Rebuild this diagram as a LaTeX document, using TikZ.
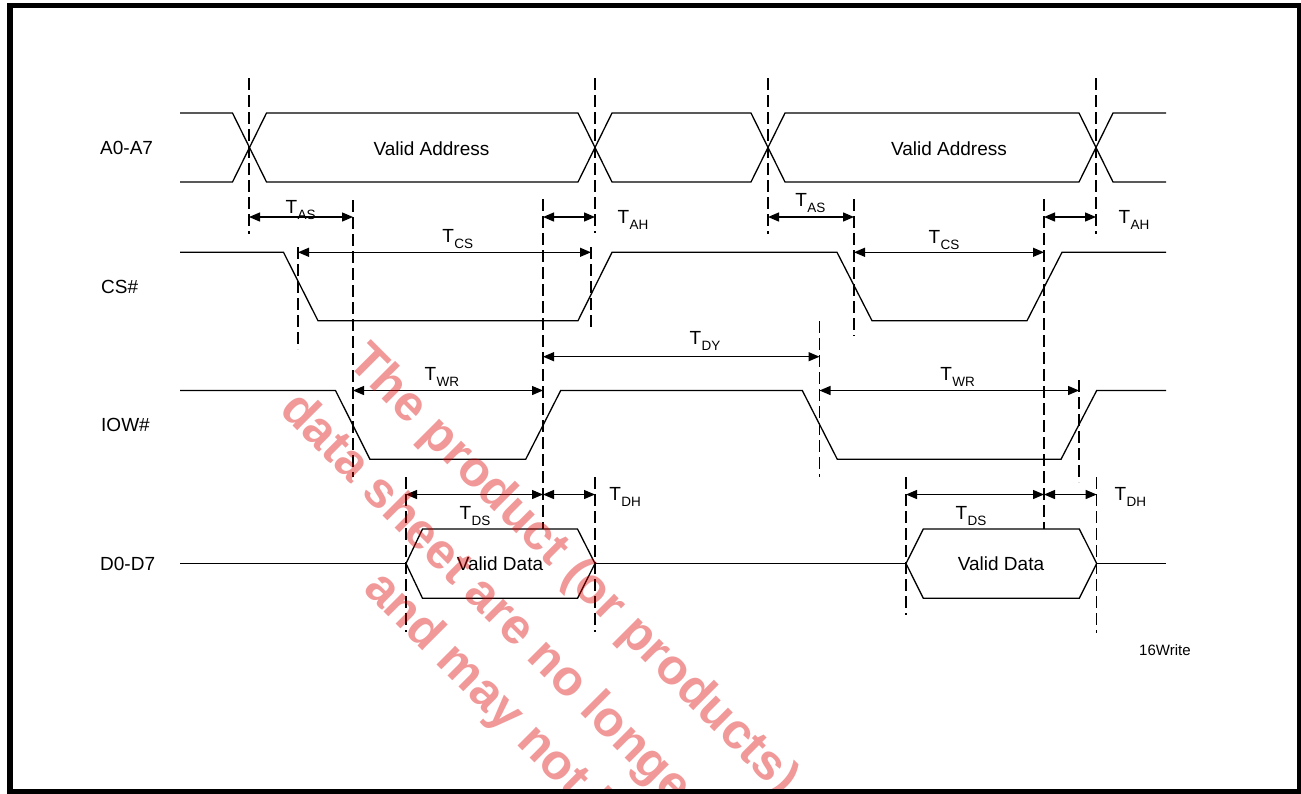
\documentclass[tikz,border=0pt]{standalone}
\usepackage{fontspec}
\setmainfont{Liberation Sans}
\usetikzlibrary{arrows.meta}
\definecolor{wmred}{RGB}{220,0,0}
\newcommand{\TS}[1]{T\kern0.3pt\raisebox{-6pt}{\fontsize{13.5}{15}\selectfont #1}}
\begin{document}
\begin{tikzpicture}[x=1pt,y=-1pt,
  sig/.style={line width=1.3pt,line join=miter},
  guide/.style={line width=1.2pt,dash pattern=on 12pt off 5pt},
  dim/.style={line width=1.3pt,arrows={Triangle[length=11pt,width=9pt]-Triangle[length=11pt,width=9pt]}},
  lbl/.style={font=\fontsize{19}{22}\selectfont,inner sep=0pt},
  tl/.style={font=\fontsize{19}{22}\selectfont,inner sep=0pt,anchor=base west},
  wm/.style={font=\fontsize{50}{56}\selectfont\bfseries,text=wmred,text opacity=0.4,inner sep=0pt,anchor=base west,rotate=-45}]
\useasboundingbox (0,0) rectangle (1301,793);
\fill[white] (0,0) rectangle (1301,793);

% signal names
\node[lbl,anchor=base west] (nA) at (100,154.3) {A0-A7};
\node[lbl,anchor=base west] (nCS) at (101,293.3) {CS\#};
\node[lbl,anchor=base west] (nIOW) at (101,431.3) {IOW\#};
\node[lbl,anchor=base west] (nD) at (100,570.3) {D0-D7};

% A0-A7
\draw[sig] (180,113) -- (232.5,113) -- (266.5,182) -- (578,182) -- (612,113) -- (751,113) -- (785,182) -- (1079,182) -- (1113,113) -- (1166,113);
\draw[sig] (180,182) -- (232.5,182) -- (266.5,113) -- (578,113) -- (612,182) -- (751,182) -- (785,113) -- (1079,113) -- (1113,182) -- (1166,182);
\node[lbl,anchor=base] (va1) at (431.5,155) {Valid Address};
\node[lbl,anchor=base] (va2) at (949,155) {Valid Address};

% CS#
\draw[sig] (180,252.3) -- (283.5,252.3) -- (318,320.7) -- (578,320.7) -- (612,252.3) -- (837,252.3) -- (872,320.7) -- (1027,320.7) -- (1062,252.3) -- (1166,252.3);

% IOW#
\draw[sig] (180,390.5) -- (335.5,390.5) -- (370,459.3) -- (525.7,459.3) -- (560.7,390.5) -- (802.3,390.5) -- (837.3,459.3) -- (1061,459.3) -- (1096.7,390.5) -- (1166,390.5);

% D0-D7
\draw[sig] (180,563.5) -- (406,563.5);
\draw[sig] (406,563.5) -- (422.5,529) -- (577.5,529) -- (595,563.5) -- (577.5,598.3) -- (422.5,598.3) -- cycle;
\draw[sig] (595,563.5) -- (906,563.5);
\draw[sig] (906,563.5) -- (923.3,529) -- (1079.3,529) -- (1096.7,563.5) -- (1079.3,598.3) -- (923.3,598.3) -- cycle;
\draw[sig] (1096.7,563.5) -- (1166,563.5);
\node[lbl,anchor=base] (vd1) at (500,570.3) {Valid Data};
\node[lbl,anchor=base] (vd2) at (1001,570.3) {Valid Data};

% guide lines
\coordinate (g1a) at (249,78);    \coordinate (g1b) at (249,234);
\coordinate (g2a) at (595,78);    \coordinate (g2b) at (595,233);
\coordinate (g3a) at (768,78);    \coordinate (g3b) at (768,234);
\coordinate (g4a) at (1096,78);   \coordinate (g4b) at (1096,234);
\coordinate (g5a) at (353,200);   \coordinate (g5b) at (353,477);
\coordinate (g6a) at (543,199);   \coordinate (g6b) at (543,529);
\coordinate (g7a) at (298,247);   \coordinate (g7b) at (298,349);
\coordinate (g8a) at (591,247);   \coordinate (g8b) at (591,331);
\coordinate (g9a) at (854,199);   \coordinate (g9b) at (854,336);
\coordinate (g10a) at (1044,199); \coordinate (g10b) at (1044,529);
\coordinate (g11a) at (819.5,321);\coordinate (g11b) at (819.5,477);
\coordinate (g12a) at (1079,380); \coordinate (g12b) at (1079,482);
\coordinate (g13a) at (406,477);  \coordinate (g13b) at (406,632);
\coordinate (g14a) at (595,477);  \coordinate (g14b) at (595,632);
\coordinate (g15a) at (906,477);  \coordinate (g15b) at (906,615);
\coordinate (g16a) at (1096.7,477); \coordinate (g16b) at (1096.7,633);
\foreach \i in {1,...,16} { \draw[guide] (g\i a) -- (g\i b); }

% dimension arrows
\draw[dim] (g1a |- 0,217) -- (g5a |- 0,217);
\draw[dim] (g6a |- 0,217) -- (g2a |- 0,217);
\draw[dim] (g3a |- 0,217) -- (g9a |- 0,217);
\draw[dim] (g10a |- 0,217) -- (g4a |- 0,217);
\draw[dim] (g7a |- 0,252.3) -- (g8a |- 0,252.3);
\draw[dim] (g9a |- 0,252.3) -- (g10a |- 0,252.3);
\draw[dim] (g6a |- 0,356.7) -- (g11a |- 0,356.7);
\draw[dim] (g5a |- 0,390.5) -- (g6a |- 0,390.5);
\draw[dim] (g11a |- 0,390.5) -- (g12a |- 0,390.5);
\draw[dim] (g13a |- 0,494.5) -- (g6a |- 0,494.5);
\draw[dim] (g6a |- 0,494.5) -- (g14a |- 0,494.5);
\draw[dim] (g15a |- 0,494.5) -- (g10a |- 0,494.5);
\draw[dim] (g10a |- 0,494.5) -- (g16a |- 0,494.5);

% timing labels
\node[tl] (tas1) at (285.5,213.7) {\TS{AS}};
\node[tl] (tas2) at (795.2,206.7) {\TS{AS}};
\node[tl] (tah1) at (617.5,223.3) {\TS{AH}};
\node[tl] (tah2) at (1118.5,223.3) {\TS{AH}};
\node[tl] (tcs1) at (442.2,242.7) {\TS{CS}};
\node[tl] (tcs2) at (928.5,243) {\TS{CS}};
\node[tl] (tdy) at (689.5,344.3) {\TS{DY}};
\node[tl] (twr1) at (424.5,380) {\TS{WR}};
\node[tl] (twr2) at (940.2,380) {\TS{WR}};
\node[tl] (tds1) at (459.5,519.3) {\TS{DS}};
\node[tl] (tds2) at (955.5,519.3) {\TS{DS}};
\node[tl] (tdh1) at (609.2,500.6) {\TS{DH}};
\node[tl] (tdh2) at (1114.5,500.3) {\TS{DH}};

\node[inner sep=0pt,anchor=base west,font=\fontsize{15}{18}\selectfont] (fig) at (1139,655) {16Write};

% watermark
\begin{scope}
\clip (13,9) rectangle (1297,789);
\node[wm] (w1) at (346,363) {The product (or products)};
\node[wm] (w2) at (278,411) {data sheet are no longer};
\node[wm] (w3) at (362,590) {and may not be};
\end{scope}

% frame
\draw[line width=5.6pt] (9.8,5.5) rectangle (1299.6,791.6);
\end{tikzpicture}
\end{document}
